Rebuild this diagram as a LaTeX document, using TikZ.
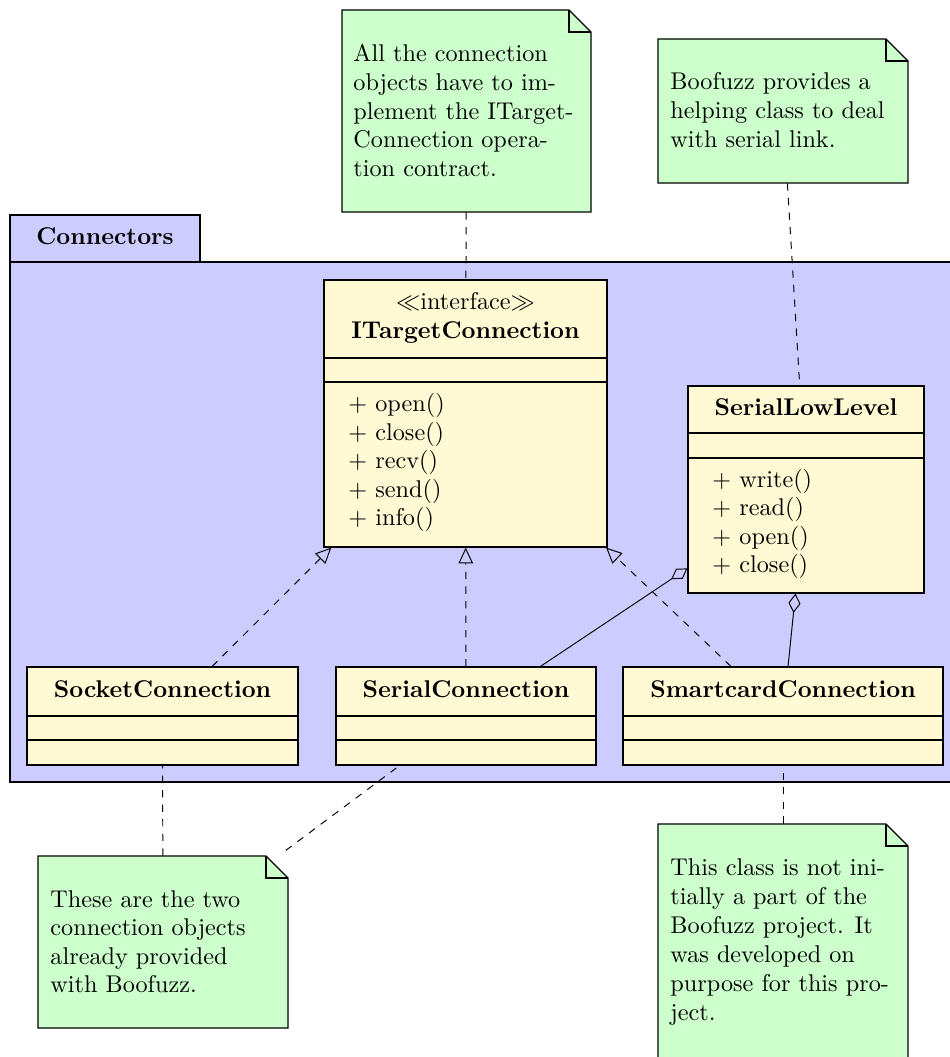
\documentclass[tikz,border=0pt]{standalone}
\usetikzlibrary{arrows.meta,fit}

\definecolor{pkgfill}{RGB}{204,204,255}
\definecolor{classfill}{RGB}{255,250,212}
\definecolor{notefill}{RGB}{204,255,204}

% dog-eared note: name, x1, y1, x2, y2 (fold of 22 units)
\newcommand\umlnote[5]{%
  \node[fit={(#2,#3) (#4,#5)}, inner sep=0pt] (#1) {};
  \draw[notebox] (#2,#3) -- ({#4-22},#3) -- (#4,{#3+22}) -- (#4,#5) -- (#2,#5) -- cycle;
  \draw[line width=0.5pt] ({#4-22},#3) -- ({#4-22},{#3+22}) -- (#4,{#3+22});
}

\begin{document}
\begin{tikzpicture}[x=0.413pt, y=-0.413pt, line width=0.4pt,
  classbox/.style={draw, fill=classfill, inner sep=0pt, line width=0.5pt},
  notebox/.style={draw, fill=notefill, line width=0.5pt},
  classname/.style={font=\bfseries, inner sep=0pt, anchor=base},
  optext/.style={inner sep=0pt, anchor=base west},
  notetext/.style={inner sep=0pt, anchor=base west},
  realize/.style={dashed, -{Triangle[open, length=6.5pt, width=6pt]}},
  aggreg/.style={-{Diamond[open, length=8pt, width=5pt]}},
  noteline/.style={dashed}]

\useasboundingbox (0,0) rectangle (949,1057);

% package Connectors
\draw[fill=pkgfill, line width=0.5pt] (10,262) rectangle (962,782);
\node[draw, fill=pkgfill, fit={(10,215) (200,262)}, inner sep=0pt, line width=0.5pt] (pkgtab) {};
\node[font=\bfseries, anchor=base, inner sep=0pt] (pkgname) at (105,245) {Connectors};

% interface ITargetConnection
\node[classbox, fit={(324,280) (607,547)}] (itc) {};
\draw[line width=0.5pt] (324,358) -- (607,358);
\draw[line width=0.5pt] (324,382) -- (607,382);
\node[inner sep=0pt, anchor=base] (itcster) at (465.5,310) {$\ll$interface$\gg$};
\node[classname] (itcname) at (465.5,339) {ITargetConnection};
\foreach \op [count=\i] in {open(), close(), recv(), send(), info()}
  \node[optext] (itcop\i) at (348,{412+28.4*(\i-1)}) {$+$ \op};

% class SerialLowLevel
\node[classbox, fit={(688,386) (924,593)}] (sll) {};
\draw[line width=0.5pt] (688,433) -- (924,433);
\draw[line width=0.5pt] (688,458) -- (924,458);
\node[classname] (sllname) at (806,415) {SerialLowLevel};
\foreach \op [count=\i] in {write(), read(), open(), close()}
  \node[optext] (sllop\i) at (712,{487+28.6*(\i-1)}) {$+$ \op};

% concrete connection classes
\node[classbox, fit={(27,667) (298,765)}] (socket) {};
\node[classbox, fit={(336,667) (596,765)}] (serial) {};
\node[classbox, fit={(623,667) (943,765)}] (smart) {};
\foreach \xa/\xb in {27/298, 336/596, 623/943} {
  \draw[line width=0.5pt] (\xa,716) -- (\xb,716);
  \draw[line width=0.5pt] (\xa,740) -- (\xb,740);
}
\node[classname] (socketname) at (162.5,697) {SocketConnection};
\node[classname] (serialname) at (466,697) {SerialConnection};
\node[classname] (smartname) at (783,697) {SmartcardConnection};

% notes
\umlnote{noteA}{342}{10}{591}{212}
\foreach \t [count=\i] in {All the connection, objects have to im-, plement the ITarget-, Connection opera-, tion contract.}
  \node[notetext] (noteAl\i) at (353,{62+28.6*(\i-1)}) {\t};

\umlnote{noteB}{658}{39}{908}{183}
\foreach \t [count=\i] in {Boofuzz provides a, helping class to deal, with serial link.}
  \node[notetext] (noteBl\i) at (670,{90+28.6*(\i-1)}) {\t};

\umlnote{noteC}{38}{856}{288}{1028}
\foreach \t [count=\i] in {These are the two, connection objects, already provided, with Boofuzz.}
  \node[notetext] (noteCl\i) at (50,{907+28.6*(\i-1)}) {\t};

\umlnote{noteD}{658}{824}{908}{1080}
\foreach \t [count=\i] in {This class is not ini-, tially a part of the, Boofuzz project. It, was developed on, purpose for this pro-, ject.}
  \node[notetext] (noteDl\i) at (670,{875+29*(\i-1)}) {\t};

% realizations of the interface
\draw[realize] (socket) -- (itc);
\draw[realize] (serial) -- (itc);
\draw[realize] (smart) -- (itc);

% aggregations with SerialLowLevel
\draw[aggreg] (serial) -- (sll);
\draw[aggreg] (smart) -- (sll);

% note attachments
\draw[noteline] (noteA) -- (itc);
\draw[noteline] (noteB) -- (sll);
\draw[noteline] (noteC) -- (socket);
\draw[noteline, shorten <=3.55pt] (noteC) -- (serial);
\draw[noteline] (noteD) -- (smart);
\end{tikzpicture}
\end{document}
